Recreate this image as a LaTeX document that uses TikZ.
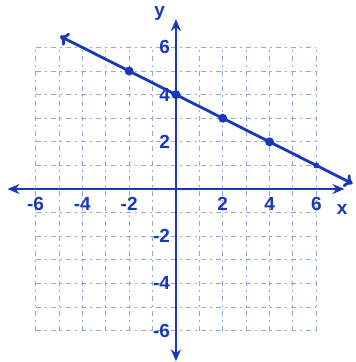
\documentclass[tikz,border=0pt]{standalone}
\usepackage{fontspec}
\setmainfont{Liberation Sans}
\usetikzlibrary{arrows.meta}
\definecolor{ink}{RGB}{25,55,185}
\definecolor{gridink}{RGB}{150,165,220}
\begin{document}
\begin{tikzpicture}[x=11.7pt,y=11.8pt,
  gridline/.style={gridink,line width=0.45pt,dash pattern=on 2.5pt off 2pt on 1pt off 2pt},
  axisline/.style={ink,line width=1.1pt,-{Stealth[length=6pt,width=5pt]}},
  graphline/.style={ink,line width=1.4pt,{To[length=4pt,width=7pt]}-{To[length=4pt,width=7pt]}},
  lbl/.style={ink,font=\fontsize{9.5}{11}\selectfont\bfseries,inner sep=1pt},
  pt/.style={circle,fill=ink,inner sep=0pt,minimum size=4.5pt}]
\useasboundingbox (-7.52,-7.33) rectangle (7.69,8.01);
% grid
\foreach \i in {-6,...,6}{
  \draw[gridline] (\i,-6) -- (\i,6);
  \draw[gridline] (-6,\i) -- (6,\i);
}
% axes
\coordinate (xl) at (-7.2,0);
\coordinate (xr) at (7.2,0);
\coordinate (yb) at (0,-7.3);
\coordinate (yt) at (0,7.2);
\draw[axisline] (0,0) -- (xr);
\draw[axisline] (0,0) -- (xl);
\draw[axisline] (0,0) -- (yt);
\draw[axisline] (0,0) -- (yb);
\node[lbl] (xlab) at (7.1,-0.85) {x};
\node[lbl] (ylab) at (-0.7,7.45) {y};
% tick labels
\foreach \v/\t in {-6/-6,-4/-4,-2/-2,2/2,4/4,6/6}{
  \node[lbl] (tx\v) at (\v,-0.65) {\t};
}
\foreach \v/\t in {6/6,4/4,2/2,-2/-2,-4/-4,-6/-6}{
  \node[lbl,anchor=east] (ty\v) at (-0.15,\v) {\t};
}
% line y = -x/2 + 4
\coordinate (la) at (-4.95,6.475);
\coordinate (lb) at (7.55,0.225);
\draw[graphline] (la) -- (lb);
\node[pt] (p1) at (-2,5) {};
\node[pt] (p2) at (0,4) {};
\node[pt] (p3) at (2,3) {};
\node[pt] (p4) at (4,2) {};
\node[pt,minimum size=3pt] (p5) at (6,1) {};
\end{tikzpicture}
\end{document}
